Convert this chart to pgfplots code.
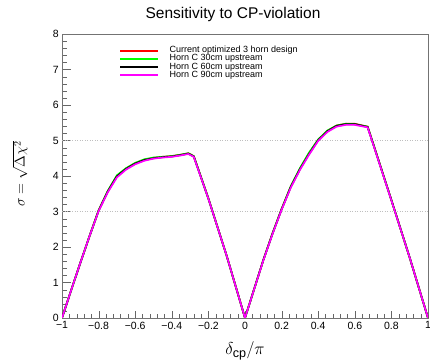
\documentclass[border=0pt]{standalone}
\usepackage{fontspec}
\setmainfont{Liberation Sans}
\usepackage{pgfplots}
\pgfplotsset{compat=1.18}
\definecolor{rred}{RGB}{255,0,0}
\definecolor{rgreen}{RGB}{0,255,0}
\definecolor{rmag}{RGB}{255,0,255}
\begin{document}
\begin{tikzpicture}
\useasboundingbox (-62bp,-43bp) rectangle (368bp,318bp);
\begin{axis}[
  at={(0,0)}, anchor=south west,
  scale only axis, width=366bp, height=284bp,
  xmin=-1, xmax=1, ymin=0, ymax=8,
  xtick={-1,-0.8,-0.6,-0.4,-0.2,0,0.2,0.4,0.6,0.8,1},
  xticklabels={−1,−0.8,−0.6,−0.4,−0.2,0,0.2,0.4,0.6,0.8,1},
  ytick={0,1,2,3,4,5,6,7,8},
  yticklabels={0,1,2,3,4,5,6,7,8},
  minor x tick num=4, minor y tick num=4,
  tick pos=left, tick align=inside,
  axis line style={black!55, line width=0.6bp},
  xtick style={black!60, /pgfplots/major tick length=7bp, /pgfplots/minor tick length=3.5bp},
  ytick style={black!60, /pgfplots/major tick length=9bp, /pgfplots/minor tick length=4.5bp},
  ticklabel style={font=\fontsize{10.5bp}{12bp}\selectfont},
  yticklabel style={inner sep=0pt, xshift=-3bp},
  xticklabel style={inner sep=0pt, yshift=-3.5bp},
  legend cell align=left,
  legend style={at={(axis cs:-0.689,7.65)}, anchor=north west, draw=none, fill=none,
    inner sep=0pt, font=\fontsize{9bp}{9bp}\selectfont, row sep=0.5bp,
    nodes={inner sep=0.4bp, text height=5.5bp, text depth=1.5bp},
    /tikz/every odd column/.append style={column sep=10bp}},
]
\addplot[black!25, dash pattern=on 1bp off 1.5bp, line width=0.5bp, forget plot] coordinates {(-1,3) (1,3)};
\addplot[black!25, dash pattern=on 1bp off 1.5bp, line width=0.5bp, forget plot] coordinates {(-1,5) (1,5)};
% red
\addplot[rred, line width=1.7bp, legend image code/.code={\draw[rred, line width=2bp] (0bp,0bp) -- (38bp,0bp);}] coordinates {
(-1,0) (-0.95,0.78) (-0.9,1.55) (-0.85,2.3) (-0.8,3.03) (-0.75,3.57) (-0.7,4.0)
(-0.65,4.21) (-0.6,4.36) (-0.55,4.46) (-0.5,4.51) (-0.45,4.54) (-0.4,4.56) (-0.35,4.6)
(-0.31,4.64) (-0.28,4.56) (-0.2,3.37) (-0.1,1.75) (0,0)
(0.1,1.63) (0.15,2.38) (0.2,3.07) (0.25,3.7) (0.3,4.2) (0.35,4.64) (0.4,5.02) (0.45,5.27)
(0.5,5.42) (0.55,5.47) (0.6,5.47) (0.67,5.39) (0.7,4.92) (0.8,3.32) (0.9,1.7) (1,0)};
\addlegendentry{Current optimized 3 horn design}
% green
\addplot[rgreen, line width=1.7bp, legend image code/.code={\draw[rgreen, line width=2bp] (0bp,0bp) -- (38bp,0bp);}] coordinates {
(-1,0) (-0.95,0.78) (-0.9,1.55) (-0.85,2.3) (-0.8,3.03) (-0.75,3.58) (-0.7,4.02)
(-0.65,4.22) (-0.6,4.37) (-0.55,4.47) (-0.5,4.52) (-0.45,4.54) (-0.4,4.56) (-0.35,4.6)
(-0.31,4.64) (-0.28,4.56) (-0.2,3.37) (-0.1,1.75) (0,0)
(0.1,1.63) (0.15,2.38) (0.2,3.07) (0.25,3.71) (0.3,4.22) (0.35,4.66) (0.4,5.03) (0.45,5.28)
(0.5,5.42) (0.55,5.47) (0.6,5.46) (0.67,5.39) (0.7,4.92) (0.8,3.32) (0.9,1.7) (1,0)};
\addlegendentry{Horn C 30cm upstream}
% black
\addplot[black, line width=1.7bp, legend image code/.code={\draw[black, line width=2bp] (0bp,0bp) -- (38bp,0bp);}] coordinates {
(-1,0) (-0.95,0.78) (-0.9,1.55) (-0.85,2.3) (-0.8,3.02) (-0.75,3.56) (-0.7,3.99)
(-0.65,4.2) (-0.6,4.35) (-0.55,4.45) (-0.5,4.5) (-0.45,4.53) (-0.4,4.55) (-0.35,4.59)
(-0.31,4.63) (-0.28,4.55) (-0.2,3.36) (-0.1,1.75) (0,0)
(0.1,1.63) (0.15,2.37) (0.2,3.06) (0.25,3.69) (0.3,4.19) (0.35,4.62) (0.4,5.01) (0.45,5.26)
(0.5,5.41) (0.55,5.46) (0.6,5.46) (0.67,5.38) (0.7,4.91) (0.8,3.32) (0.9,1.7) (1,0)};
\addlegendentry{Horn C 60cm upstream}
% magenta
\addplot[rmag, line width=1.7bp, legend image code/.code={\draw[rmag, line width=2bp] (0bp,0bp) -- (38bp,0bp);}] coordinates {
(-1,0) (-0.95,0.78) (-0.9,1.55) (-0.85,2.3) (-0.8,3.01) (-0.75,3.54) (-0.7,3.96)
(-0.65,4.18) (-0.6,4.33) (-0.55,4.43) (-0.5,4.49) (-0.45,4.52) (-0.4,4.54) (-0.35,4.58)
(-0.31,4.62) (-0.28,4.54) (-0.2,3.36) (-0.1,1.75) (0,0)
(0.1,1.62) (0.15,2.36) (0.2,3.05) (0.25,3.67) (0.3,4.17) (0.35,4.6) (0.4,4.99) (0.45,5.24)
(0.5,5.39) (0.55,5.44) (0.6,5.44) (0.67,5.37) (0.7,4.9) (0.8,3.31) (0.9,1.7) (1,0)};
\addlegendentry{Horn C 90cm upstream}
\end{axis}
\node at (171bp,304bp) {\fontsize{15.5bp}{18bp}\selectfont Sensitivity to CP-violation};
\node[rotate=90, inner sep=0pt] at (-42bp,144bp) {\fontsize{14.5bp}{17bp}\selectfont $\sigma = \sqrt{\Delta\chi^{2}}$};
\node at (183bp,-33bp) {\fontsize{18bp}{20bp}\selectfont $\delta_{\mathrm{cp}}/\pi$};
\end{tikzpicture}
\end{document}
